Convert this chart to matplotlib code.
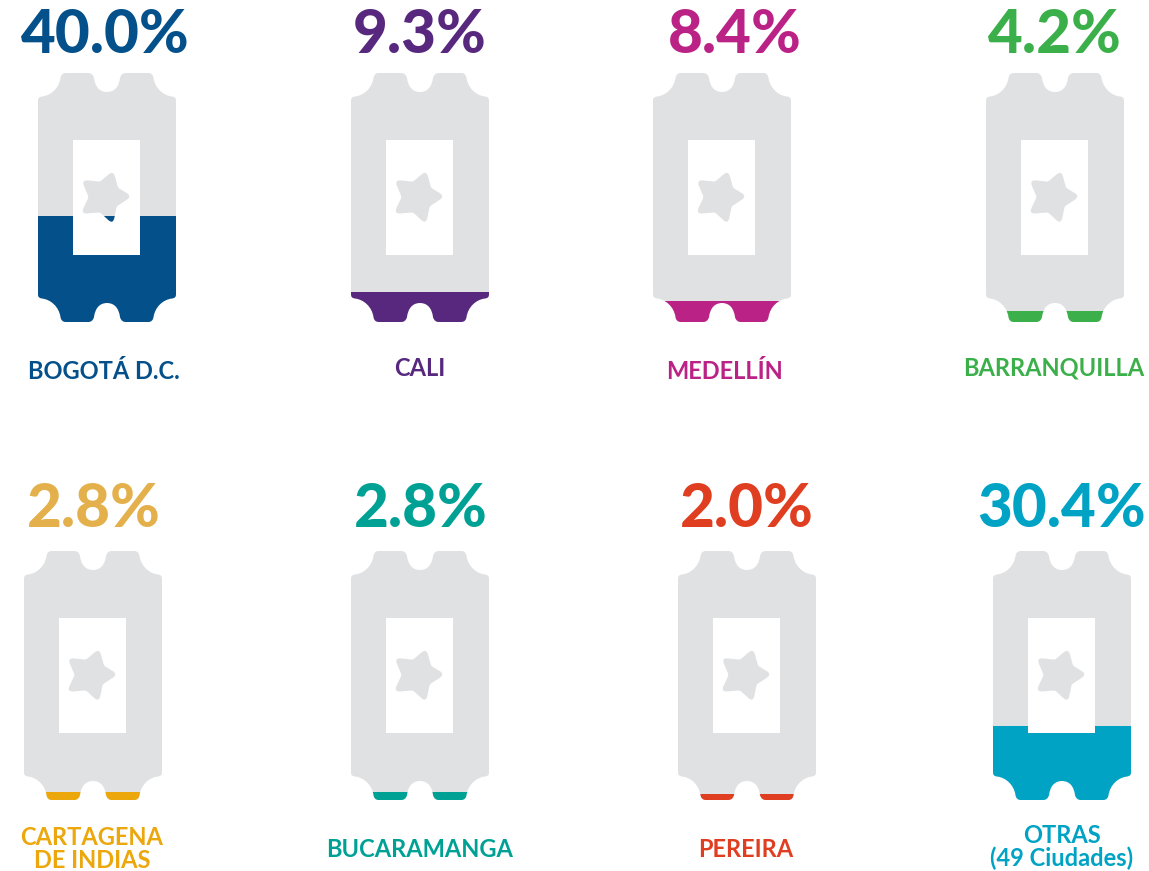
import matplotlib
matplotlib.use("Agg")
import matplotlib.pyplot as plt
from matplotlib.path import Path
from matplotlib.patches import PathPatch, Rectangle
from matplotlib.transforms import Affine2D

W, H = 1149, 871
cities = ["BOGOTÁ D.C.", "CALI", "MEDELLÍN", "BARRANQUILLA",
          "CARTAGENA\nDE INDIAS", "BUCARAMANGA", "PEREIRA", "OTRAS\n(49 Ciudades)"]
pct_labels = ["40.0%", "9.3%", "8.4%", "4.2%", "2.8%", "2.8%", "2.0%", "30.4%"]
fill_share = [0.426, 0.120, 0.084, 0.046, 0.032, 0.032, 0.024, 0.297]
colors = ["#04508a", "#57287d", "#bb2286", "#3bb04a", "#eba70c", "#00a195", "#e03e20", "#00a3c4"]
pct_colors = ["#04508a", "#57287d", "#bb2286", "#3bb04a", "#e3b04b", "#00a195", "#e03e20", "#00a3c4"]
GREY = "#e0e1e3"

lefts = [38, 351, 653, 986, 24, 351, 678, 993]
tops = [73, 73, 73, 73, 551, 551, 551, 551]
pct_x = [105, 420, 735, 1055, 94, 421, 747, 1062]
pct_y = [53, 53, 53, 53, 527, 527, 527, 527]
lab_x = [104, 420, 724, 1054, 92, 420, 746, 1062]
lab_y = [371, 368, 371, 368, 849, 849, 849, 847]

TW, TH = 138.0, 249.0


def ticket_path():
    v, c = [], []
    def M(p): v.append(p); c.append(Path.MOVETO)
    def L(p): v.append(p); c.append(Path.LINETO)
    def B(a, b, p): v.extend([a, b, p]); c.extend([Path.CURVE4] * 3)
    # top edge, left to right
    M((0, 28))
    B((0, 25), (1, 24), (4, 23.5))
    B((13, 22.5), (21, 15), (22.5, 5))
    B((23, 2), (24.5, 0), (28, 0))
    L((50, 0))
    B((53, 0), (55, 1.5), (56, 5))
    B((57, 13), (61, 19), (69, 19))
    B((77, 19), (81, 13), (82, 5))
    B((83, 1.5), (85, 0), (88, 0))
    L((110, 0))
    B((113.5, 0), (115, 2), (115.5, 5))
    B((117, 15), (125, 22.5), (134, 23.5))
    B((137, 24), (138, 25), (138, 28))
    # bottom edge, right to left (mirror)
    L((138, TH - 28))
    B((138, TH - 25), (137, TH - 24), (134, TH - 23.5))
    B((125, TH - 22.5), (117, TH - 15), (115.5, TH - 5))
    B((115, TH - 2), (113.5, TH), (110, TH))
    L((88, TH))
    B((85, TH), (83, TH - 1.5), (82, TH - 5))
    B((81, TH - 13), (77, TH - 19), (69, TH - 19))
    B((61, TH - 19), (57, TH - 13), (56, TH - 5))
    B((55, TH - 1.5), (53, TH), (50, TH))
    L((28, TH))
    B((24.5, TH), (23, TH - 2), (22.5, TH - 5))
    B((21, TH - 15), (13, TH - 22.5), (4, TH - 23.5))
    B((1, TH - 24), (0, TH - 25), (0, TH - 28))
    v.append((0, 28)); c.append(Path.CLOSEPOLY)
    return Path(v, c)


def star_path():
    zoom_pts = [(280, 332), (294, 384), (336, 410), (290, 440), (279, 494),
                (240, 458), (182, 463), (206, 412), (184, 360), (240, 366)]
    pts = [(x / 3 + 20 - 38, y / 3 + 60 - 73.3) for x, y in zoom_pts]
    n = len(pts)
    v, c = [], []
    for i, p in enumerate(pts):
        a = pts[i - 1]
        b = pts[(i + 1) % n]
        f = 0.36 if i % 2 == 0 else 0.10
        s = (p[0] + (a[0] - p[0]) * f, p[1] + (a[1] - p[1]) * f)
        e = (p[0] + (b[0] - p[0]) * f, p[1] + (b[1] - p[1]) * f)
        v.append(s); c.append(Path.MOVETO if i == 0 else Path.LINETO)
        v.extend([p, e]); c.extend([Path.CURVE3, Path.CURVE3])
    v.append(v[0]); c.append(Path.CLOSEPOLY)
    return Path(v, c)


fig = plt.figure(figsize=(W / 100, H / 100), dpi=100)
ax = fig.add_axes([0, 0, 1, 1])
ax.set_xlim(0, W)
ax.set_ylim(H, 0)
ax.axis("off")

T = ticket_path()
S = star_path()

for i in range(len(cities)):
    x0, y0 = lefts[i], tops[i]
    place = Affine2D().translate(x0, y0) + ax.transData
    ticket = PathPatch(T, fc=GREY, ec="none", transform=place, zorder=1)
    ax.add_patch(ticket)
    h = fill_share[i] * TH
    bars = ax.bar(x0, -h, bottom=y0 + TH, width=TW, align="edge",
                  color=colors[i], linewidth=0, zorder=2)
    clip_t = PathPatch(T, transform=place)
    bars[0].set_clip_path(clip_t)
    ax.add_patch(Rectangle((x0 + 35.3, y0 + 67), 67, 115, fc="white", ec="none", zorder=3))
    ax.add_patch(PathPatch(S, fc=GREY, ec="none", transform=place, zorder=4))
    star_col = PathPatch(S, fc=colors[i], ec="none", transform=place, zorder=5)
    ax.add_patch(star_col)
    star_col.set_clip_path(Rectangle((x0, y0 + TH - h), TW, h, transform=ax.transData))
    ax.text(pct_x[i], pct_y[i], pct_labels[i], color=pct_colors[i], family="Lato",
            weight="black", fontsize=43.3, ha="center", va="baseline")
    ax.text(lab_x[i], lab_y[i], cities[i], color=colors[i], family="Lato",
            weight="bold", fontsize=17, ha="center", va="center", linespacing=1.0)

fig.savefig("out.png", dpi=100, facecolor="white")
